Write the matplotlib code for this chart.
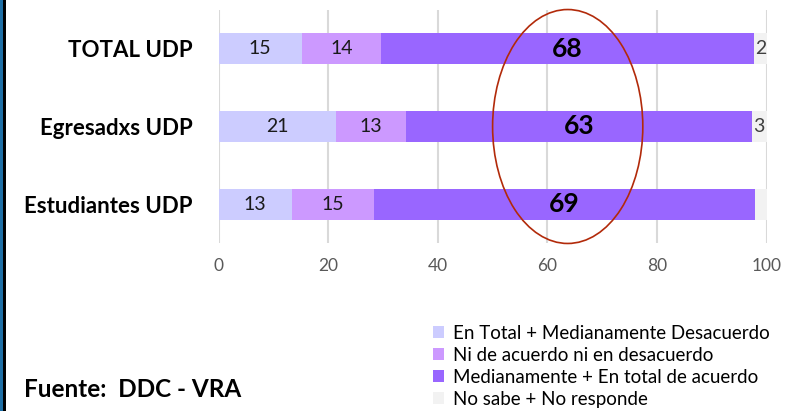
import matplotlib.pyplot as plt
from matplotlib.patches import Ellipse, Patch, Rectangle
import numpy as np

plt.rcParams['font.family'] = ['Lato', 'DejaVu Sans']

# Data
groups = ["TOTAL UDP", "Egresadxs UDP", "Estudiantes UDP"]
series_names = ["En Total + Medianamente Desacuerdo",
                "Ni de acuerdo ni en desacuerdo",
                "Medianamente + En total de acuerdo",
                "No sabe + No responde"]
desacuerdo = [15.2, 21.4, 13.4]
neutral = [14.4, 12.8, 15.0]
acuerdo = [68.1, 63.1, 69.4]
no_sabe = [2.3, 2.7, 2.2]
no_sabe_shown = [True, True, False]
colors = ["#CCCCFF", "#CC99FF", "#9966FF", "#F2F2F2"]

fig = plt.figure(figsize=(7.87, 4.11), dpi=100)
ax = fig.add_axes([218.5 / 787, 1 - 243 / 411, 548.2 / 787, 233 / 411])

y = np.arange(len(groups))
series = [desacuerdo, neutral, acuerdo, no_sabe]
left = np.zeros(len(groups))
for i, vals in enumerate(series):
    bars = ax.barh(y, vals, left=left, height=0.4, color=colors[i], zorder=2)
    for j, b in enumerate(bars):
        cx = left[j] + vals[j] / 2
        if i == 2:
            ax.text(cx, y[j], f"{vals[j]:.0f}", ha="center", va="center",
                    fontsize=19, fontweight="bold", color="black", zorder=3)
        elif i == 3:
            if no_sabe_shown[j]:
                ax.text(cx, y[j], f"{vals[j]:.0f}", ha="center", va="center",
                        fontsize=14, color="#404040", zorder=3)
        else:
            ax.text(cx, y[j], f"{vals[j]:.0f}", ha="center", va="center",
                    fontsize=14, color="#1a1a1a", zorder=3)
    left = left + np.array(vals)

ax.set_xlim(0, 100)
ax.set_ylim(2.494, -0.494)
ax.set_xticks(np.arange(0, 101, 20))
ax.set_yticks(y)
ax.set_yticklabels(groups, fontsize=16, fontweight="bold")
ax.tick_params(axis="x", length=0, labelsize=12.5, labelcolor="#595959", pad=11)
ax.tick_params(axis="y", length=0, pad=18.5)
ax.grid(axis="x", color="#D9D9D9", linewidth=1.5, zorder=0)
for s in ax.spines.values():
    s.set_visible(False)

# highlight ellipse
ax.add_patch(Ellipse((63.7, 1.0), 27.4, 3.0, fill=False, edgecolor="#B22A0A",
                     linewidth=1.2, clip_on=False, zorder=4))

# legend
handles = [Patch(facecolor=c, edgecolor="none") for c in colors]
fig.legend(handles, series_names, loc="upper left",
           bbox_to_anchor=(433 / 787, 1 - 325 / 411), frameon=False,
           fontsize=13.5, handlelength=0.6, handleheight=0.6,
           handletextpad=0.45, labelspacing=0.26, borderpad=0, borderaxespad=0)

fig.text(24 / 787, 1 - 389 / 411, "Fuente:  DDC - VRA", fontsize=17.5,
         fontweight="bold", va="center", ha="left")

# left border
fig.patches.append(Rectangle((0, 0), 3 / 787, 1, transform=fig.transFigure,
                             facecolor="#1F6FA5", edgecolor="none"))
fig.patches.append(Rectangle((3 / 787, 0), 2.5 / 787, 1, transform=fig.transFigure,
                             facecolor="black", edgecolor="none"))

fig.savefig("out.png", dpi=100)
